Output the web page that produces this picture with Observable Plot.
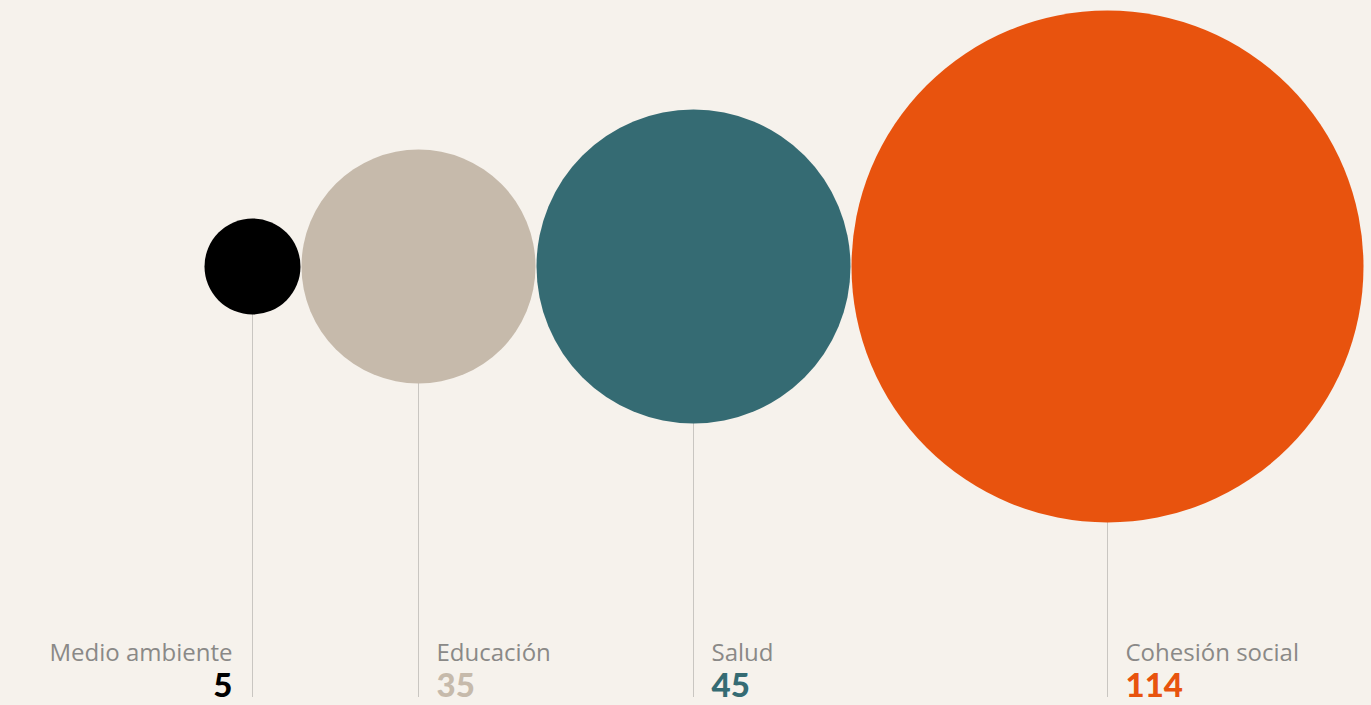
<!DOCTYPE html>
<html><head><meta charset="utf-8">
<script src="https://cdn.jsdelivr.net/npm/d3@7"></script>
<script src="https://cdn.jsdelivr.net/npm/@observablehq/plot@0.6"></script>
<style>
html,body{margin:0;padding:0;background:#f6f2ec;}
#chart svg{display:block;}
</style></head>
<body><div id="chart"></div>
<script>
const categories = ["Medio ambiente", "Educación", "Salud", "Cohesión social"];
const values = [5, 35, 45, 114];
const colors = ["#000000", "#c6baab", "#356b73", "#e8530e"];

const W = 1371, H = 705;
// radius scale (as drawn in reference)
const rScale = d3.scaleLinear().domain([5, 35, 45, 114]).range([48, 117, 157, 256]);
const startX = 204, topY = 10, bottomY = 697;
const maxR = rScale(d3.max(values));
const cy = topY + maxR;
let cursor = startX;
const data = categories.map((c, i) => {
  const r = rScale(values[i]);
  const cx = cursor + r;
  cursor += 2 * r + 1;
  return {cat: c, value: values[i], color: colors[i], r, cx, cy, i};
});

const nameFont = "'Open Sans', sans-serif";
const numFont = "Lato, sans-serif";
const chart = Plot.plot({
  width: W, height: H,
  margin: 0,
  x: {type: "identity", axis: null},
  y: {type: "identity", axis: null},
  r: {type: "identity"},
  style: {background: "#f6f2ec", fontFamily: nameFont},
  marks: [
    Plot.ruleX(data, {x: "cx", y1: d => d.cy + d.r, y2: bottomY, stroke: "#c9c6c1", strokeWidth: 1}),
    Plot.dot(data, {x: "cx", y: "cy", r: "r", fill: "color", stroke: null}),
    Plot.text(data.filter(d => d.i === 0), {x: d => d.cx - 20, y: 660, text: "cat", textAnchor: "end", lineAnchor: "bottom", fill: "#8a8987", fontSize: 24, fontFamily: nameFont}),
    Plot.text(data.filter(d => d.i === 0), {x: d => d.cx - 20, y: 696, text: d => String(d.value), textAnchor: "end", lineAnchor: "bottom", fill: "color", fontSize: 33, fontWeight: 900, fontFamily: numFont}),
    Plot.text(data.filter(d => d.i > 0), {x: d => d.cx + 18, y: 660, text: "cat", textAnchor: "start", lineAnchor: "bottom", fill: "#8a8987", fontSize: 24, fontFamily: nameFont}),
    Plot.text(data.filter(d => d.i > 0), {x: d => d.cx + 18, y: 696, text: d => String(d.value), textAnchor: "start", lineAnchor: "bottom", fill: "color", fontSize: 33, fontWeight: 900, fontFamily: numFont})
  ]
});
document.getElementById("chart").append(chart);
</script></body></html>
